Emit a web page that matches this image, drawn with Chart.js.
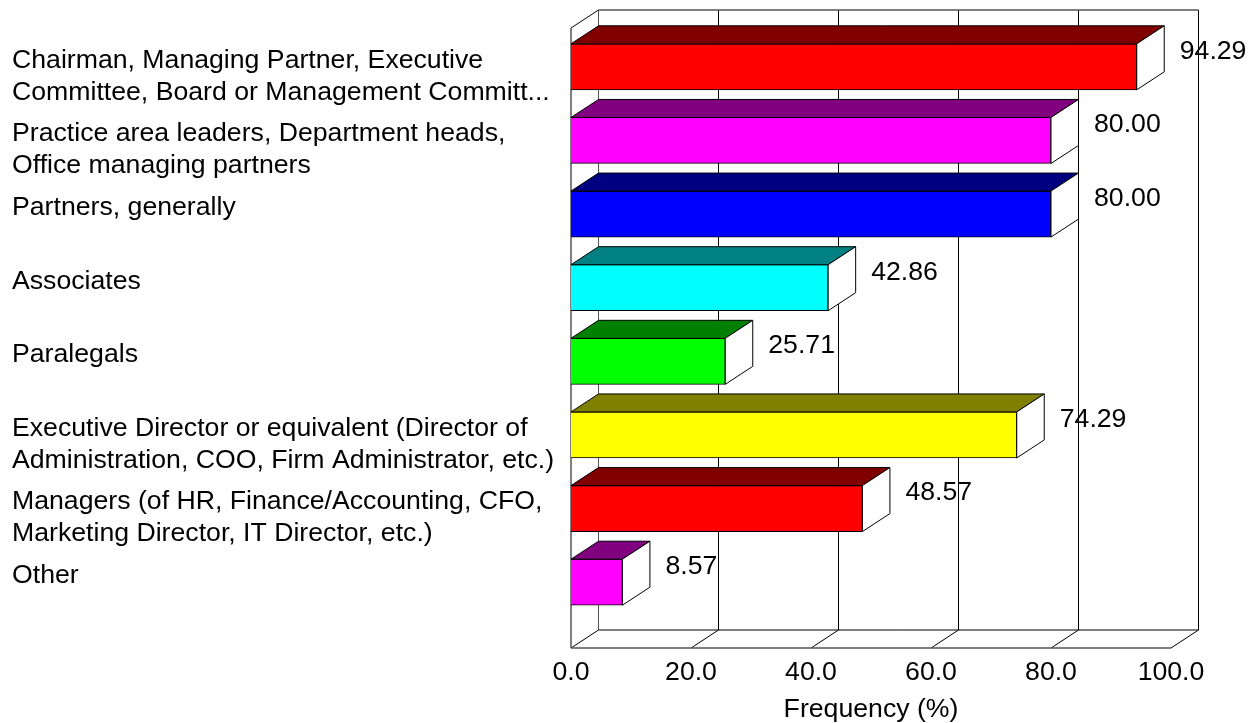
<!DOCTYPE html>
<html>
<head>
<meta charset="utf-8">
<title>Frequency</title>
<script src="https://cdn.jsdelivr.net/npm/chart.js@4/dist/chart.umd.min.js"></script>
<style>
    html, body { margin: 0; padding: 0; background: #fff; }
    canvas { display: block; }
</style>
</head>
<body>
<canvas id="chart" width="1254" height="723"></canvas>
<script>
// Data (single-line labels get an empty 2nd line so every label starts at the same spot)
const categories = [
    ['Chairman, Managing Partner, Executive', 'Committee, Board or Management Committ...'],
    ['Practice area leaders, Department heads,', 'Office managing partners'],
    ['Partners, generally', ''],
    ['Associates', ''],
    ['Paralegals', ''],
    ['Executive Director or equivalent (Director of', 'Administration, COO, Firm Administrator, etc.)'],
    ['Managers (of HR, Finance/Accounting, CFO,', 'Marketing Director, IT Director, etc.)'],
    ['Other', '']
];
const values = [94.29, 80.00, 80.00, 42.86, 25.71, 74.29, 48.57, 8.57];
const faceColors = ['#ff0000', '#ff00ff', '#0000ff', '#00ffff', '#00ff00', '#ffff00', '#ff0000', '#ff00ff'];
const topColors = ['#800000', '#800080', '#000080', '#008080', '#008000', '#808000', '#800000', '#800080'];
const axisTitle = 'Frequency (%)';

const FONT = '"Liberation Sans", Arial, sans-serif';
const FONT_SIZE = 26.67;

// depth of the fake 3D box
const DX = 27.5;
const DY = -18;
// front floor and front top edge sit outside the category bands
const FLOOR_Y = 648;
const FRONT_TOP_Y = 28;

function line(ctx, x1, y1, x2, y2, color, width) {
    ctx.beginPath();
    ctx.moveTo(x1, y1);
    ctx.lineTo(x2, y2);
    ctx.strokeStyle = color;
    ctx.lineWidth = width;
    ctx.stroke();
}

function poly(ctx, pts, fill) {
    ctx.beginPath();
    pts.forEach((p, i) => i ? ctx.lineTo(p[0], p[1]) : ctx.moveTo(p[0], p[1]));
    ctx.closePath();
    ctx.fillStyle = fill;
    ctx.fill();
    ctx.strokeStyle = '#000';
    ctx.lineWidth = 1;
    ctx.stroke();
}

const box3d = {
    id: 'box3d',
    // back wall and floor
    beforeDatasetsDraw(chart) {
        const ctx = chart.ctx;
        const x = chart.scales.x;
        ctx.save();
        const x0 = x.getPixelForValue(x.min);
        const x1 = x.getPixelForValue(x.max);
        const backTop = FRONT_TOP_Y + DY;
        const backBottom = FLOOR_Y + DY;
        x.ticks.forEach(t => {
            const px = x.getPixelForValue(t.value);
            line(ctx, px + DX, backTop, px + DX, backBottom, t.value === x.min ? '#555' : '#000', 1);
            line(ctx, px, FLOOR_Y, px + DX, backBottom, '#000', 1);
        });
        line(ctx, x0 + DX, backTop, x1 + DX, backTop, '#555', 1.5);
        line(ctx, x0 + DX, backBottom, x1 + DX, backBottom, '#000', 1);
        line(ctx, x0, FRONT_TOP_Y, x0 + DX, backTop, '#000', 1);
        line(ctx, x0, FRONT_TOP_Y, x0, FLOOR_Y, '#555', 1.5);
        line(ctx, x0, FLOOR_Y, x1, FLOOR_Y, '#555', 1.5);
        ctx.restore();
    },
    // top and side of each bar, then the value text
    afterDatasetsDraw(chart) {
        const ctx = chart.ctx;
        ctx.save();
        chart.getDatasetMeta(0).data.forEach((bar, i) => {
            const top = bar.y - bar.height / 2;
            const bottom = bar.y + bar.height / 2;
            poly(ctx, [[bar.base, top], [bar.base + DX, top + DY], [bar.x + DX, top + DY], [bar.x, top]], topColors[i]);
            poly(ctx, [[bar.x, top], [bar.x + DX, top + DY], [bar.x + DX, bottom + DY], [bar.x, bottom]], '#fff');
            ctx.fillStyle = '#000';
            ctx.font = FONT_SIZE + 'px ' + FONT;
            ctx.textAlign = 'left';
            ctx.textBaseline = 'middle';
            ctx.fillText(values[i].toFixed(2), bar.x + 43, top + 7.5);
        });
        ctx.restore();
    }
};

new Chart(document.getElementById('chart'), {
    type: 'bar',
    data: {
        labels: categories,
        datasets: [{
            data: values,
            backgroundColor: faceColors,
            borderColor: '#000',
            borderWidth: 1,
            barThickness: 46
        }]
    },
    options: {
        responsive: false,
        animation: false,
        indexAxis: 'y',
        layout: { padding: { left: 12, right: 83, top: 30, bottom: 0 } },
        plugins: { legend: { display: false }, tooltip: { enabled: false } },
        scales: {
            x: {
                min: 0,
                max: 100,
                grid: { display: false },
                border: { display: false },
                ticks: {
                    stepSize: 20,
                    padding: 30,
                    color: '#000',
                    maxRotation: 0,
                    font: { family: FONT, size: FONT_SIZE },
                    callback: v => v.toFixed(1)
                },
                title: {
                    display: true,
                    text: axisTitle,
                    color: '#000',
                    font: { family: FONT, size: FONT_SIZE, lineHeight: 1 },
                    padding: { top: 0, bottom: 0 }
                },
                afterFit: s => { s.height = 104; }
            },
            y: {
                grid: { display: false },
                border: { display: false },
                ticks: {
                    crossAlign: 'far',
                    autoSkip: false,
                    labelOffset: 9.5,
                    color: '#000',
                    font: { family: FONT, size: FONT_SIZE, lineHeight: '32px' }
                },
                afterFit: s => { s.width = 559; s.paddingTop = 0; s.paddingBottom = 0; }
            }
        }
    },
    plugins: [box3d]
});
</script>
</body>
</html>
